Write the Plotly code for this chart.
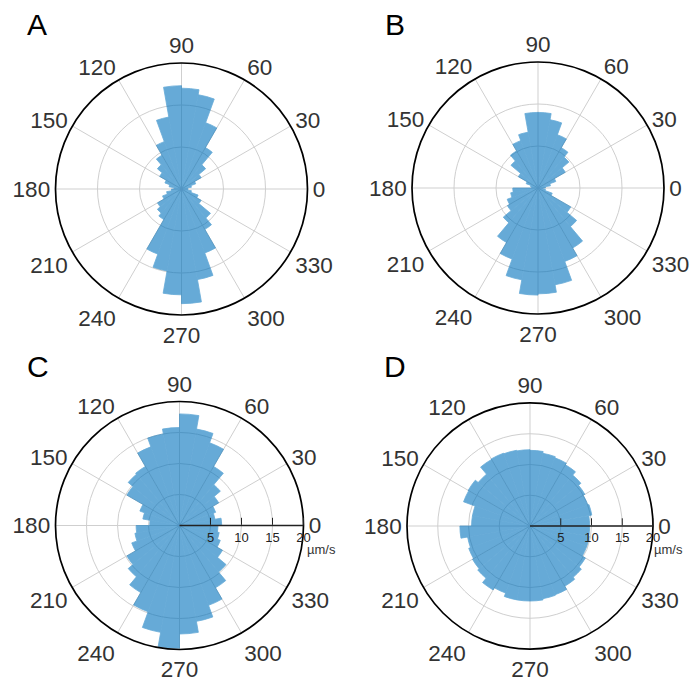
import plotly.graph_objects as go

# bin centres (deg), 10-degree bins
theta = [5 + 10 * k for k in range(36)]
tick_angles = list(range(0, 360, 30))
tick_labels = [str(a) for a in tick_angles]

# Panel A / B (arbitrary units, outer ring = 30)
r_A = [1.5, 2.4, 3.6, 5.4, 7.5, 11.4, 16.8, 22.8, 24.0, 24.6,
       17.4, 12.0, 9.3, 7.5, 6.0, 4.2, 3.0, 1.8,
       2.4, 3.6, 4.8, 6.6, 7.5, 8.4, 16.5, 19.8, 25.2, 27.3,
       21.9, 16.2, 11.1, 9.0, 5.4, 4.2, 2.4, 1.5]
r_B = [1.8, 3.0, 4.5, 7.5, 9.6, 11.1, 13.5, 16.5, 18.0, 18.0,
       13.5, 12.0, 10.2, 8.4, 5.4, 3.0, 1.8, 1.5,
       6.0, 6.6, 7.8, 8.4, 10.8, 15.0, 18.0, 22.2, 25.5, 25.2,
       23.4, 18.6, 16.5, 12.0, 9.0, 3.6, 1.8, 1.2]
# Panel C / D (µm/s, outer ring = 20)
r_C = [6.8, 5.8, 6.2, 7.3, 8.6, 11.0, 14.2, 15.8, 18.0, 15.8,
       15.0, 13.5, 11.0, 10.8, 9.8, 6.8, 6.0, 4.8,
       7.0, 7.3, 8.2, 9.8, 10.8, 12.5, 14.8, 17.5, 19.8, 17.5,
       15.7, 13.7, 11.6, 9.8, 8.0, 7.0, 6.5, 6.2]
r_D = [9.7, 10.2, 10.0, 10.3, 10.8, 11.5, 11.8, 12.0, 12.3, 12.4,
       12.5, 12.6, 12.5, 11.0, 11.6, 11.5, 9.5, 9.5,
       11.4, 10.3, 10.6, 10.8, 11.1, 12.0, 11.6, 12.2, 12.2, 12.2,
       12.0, 11.9, 11.3, 10.9, 10.4, 9.8, 9.8, 9.7]
radial_ticks_cd = [5, 10, 15, 20]
panel_letters = ["A", "B", "C", "D"]

BAR = "#0072BD"
GRID = "#cfcfcf"
TXT = "#333333"
FONT = "Liberation Sans, Arial, sans-serif"

fig = go.Figure()
series = [r_A, r_B, r_C, r_D]
subplots = ["polar", "polar2", "polar3", "polar4"]
for r, sp in zip(series, subplots):
    fig.add_trace(go.Barpolar(
        r=r, theta=theta, width=[10] * len(theta),
        marker=dict(color=BAR, line=dict(width=0.8, color=BAR)),
        opacity=0.6, subplot=sp, showlegend=False, hoverinfo="skip"))

W, H = 693, 683
def dom(cx, cy, rad):
    return dict(x=[(cx - rad) / W, (cx + rad) / W],
                y=[1 - (cy + rad) / H, 1 - (cy - rad) / H])

def angular():
    return dict(direction="counterclockwise", rotation=0,
                tickvals=tick_angles, ticktext=tick_labels, ticks="",
                showline=True, linecolor="black", linewidth=1.7,
                gridcolor=GRID, gridwidth=1.2,
                tickfont=dict(size=22.5, color=TXT, family=FONT))

def radial_ab():
    return dict(range=[0, 30], tickvals=[10, 20], showticklabels=False,
                showline=False, ticks="", gridcolor=GRID, gridwidth=1.2)

def radial_cd():
    return dict(range=[0, 20], tickvals=radial_ticks_cd,
                ticktext=[str(v) for v in radial_ticks_cd],
                showline=True, linecolor="#222222", linewidth=1.4,
                angle=0, side="clockwise", ticks="inside", ticklen=7,
                tickcolor="#222222", tickwidth=1.4,
                gridcolor=GRID, gridwidth=1.2,
                tickfont=dict(size=13, color="#222222", family=FONT))

layout_polars = dict(
    polar=dict(domain=dom(181.5, 189, 126), angularaxis=angular(),
               radialaxis=radial_ab(), bgcolor="white"),
    polar2=dict(domain=dom(538, 188, 126), angularaxis=angular(),
                radialaxis=radial_ab(), bgcolor="white"),
    polar3=dict(domain=dom(179.5, 525.5, 124), angularaxis=angular(),
                radialaxis=radial_cd(), bgcolor="white"),
    polar4=dict(domain=dom(530, 526, 123), angularaxis=angular(),
                radialaxis=radial_cd(), bgcolor="white"),
)

letter_pos = [(36.5, 24), (395, 24), (37.5, 366), (395, 366)]
annotations = []
for lab, (x, y) in zip(panel_letters, letter_pos):
    annotations.append(dict(text=lab, x=x / W, y=1 - y / H, xref="paper", yref="paper",
                            showarrow=False, xanchor="center", yanchor="middle",
                            font=dict(size=30, color="black", family=FONT)))
for (x, y) in [(321, 549), (668, 549)]:
    annotations.append(dict(text="µm/s", x=x / W, y=1 - y / H, xref="paper", yref="paper",
                            showarrow=False, xanchor="center", yanchor="middle",
                            font=dict(size=13, color=TXT, family=FONT)))

fig.update_layout(width=W, height=H, margin=dict(l=0, r=0, t=0, b=0),
                  paper_bgcolor="white", plot_bgcolor="white",
                  annotations=annotations, **layout_polars)

fig.write_html("out.html", config={"displayModeBar": False},
               post_script="document.body.style.margin='0';document.body.style.overflow='hidden';")
